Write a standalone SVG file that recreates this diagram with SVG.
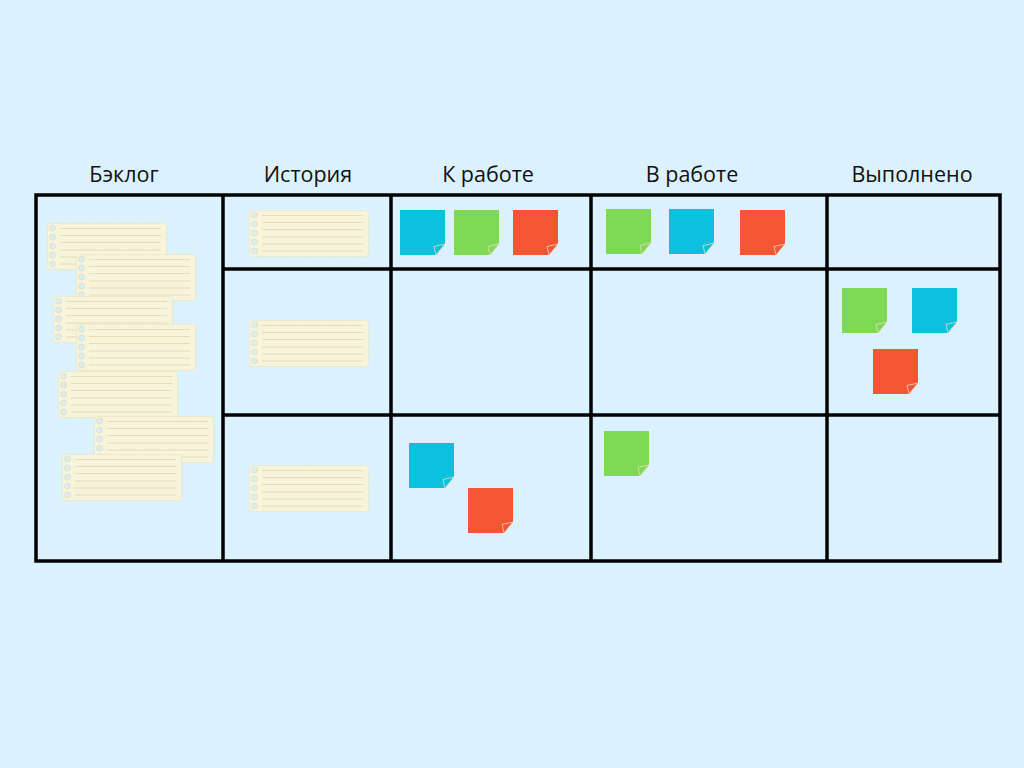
<svg xmlns="http://www.w3.org/2000/svg" xmlns:xlink="http://www.w3.org/1999/xlink" width="1024" height="768" viewBox="0 0 1024 768">
<style>
.hdr{font-family:"Open Sans","Noto Sans","DejaVu Sans",sans-serif;font-size:21.5px;fill:#111;text-anchor:middle}
.grid{stroke:#000;stroke-width:3.5;fill:none}
.blue{fill:#0bc1de}
.green{fill:#7ed957}
.red{fill:#f45535}
</style>
<defs>
<g id="card">
<rect x="0.5" y="0.5" width="119" height="46" rx="3" fill="#f8f4da" stroke="#ebe4c2" stroke-width="1" stroke-dasharray="2 1"/>
<g stroke="#e4dcba" stroke-width="1">
<line x1="13" y1="5.5" x2="114" y2="5.5"/>
<line x1="13" y1="12.5" x2="114" y2="12.5"/>
<line x1="13" y1="19.5" x2="114" y2="19.5"/>
<line x1="13" y1="27" x2="114" y2="27"/>
<line x1="13" y1="34" x2="114" y2="34"/>
<line x1="13" y1="41" x2="114" y2="41"/>
</g>
<g fill="#d6eef6" stroke="#e6e0c4" stroke-width="1">
<circle cx="5.5" cy="5" r="3"/>
<circle cx="5.5" cy="14" r="3"/>
<circle cx="5.5" cy="23" r="3"/>
<circle cx="5.5" cy="32" r="3"/>
<circle cx="5.5" cy="41" r="3"/>
</g>
</g>
<g id="sticky">
<path d="M0,0 H45 V34 L36,45 H0 Z"/>
<path d="M45,34 L34,36.5 L36,45 Z" stroke="#eadcb8" stroke-width="0.8"/>
</g>
</defs>
<rect width="1024" height="768" fill="#dbf2fe"/>
<g id="headers">
<text class="hdr" x="124" y="182">Бэклог</text>
<text class="hdr" x="308" y="182">История</text>
<text class="hdr" x="488" y="182">К работе</text>
<text class="hdr" x="692" y="182">В работе</text>
<text class="hdr" x="912" y="182">Выполнено</text>
</g>
<g id="board" class="grid">
<rect x="36" y="195" width="964" height="366"/>
<line x1="223" y1="195" x2="223" y2="561"/>
<line x1="391" y1="195" x2="391" y2="561"/>
<line x1="591" y1="195" x2="591" y2="561"/>
<line x1="827" y1="195" x2="827" y2="561"/>
<line x1="223" y1="269" x2="1000" y2="269"/>
<line x1="223" y1="415" x2="1000" y2="415"/>
</g>
<g id="backlog-cards">
<use xlink:href="#card" href="#card" transform="translate(47,223)"/>
<use xlink:href="#card" href="#card" transform="translate(76,254)"/>
<use xlink:href="#card" href="#card" transform="translate(53,296)"/>
<use xlink:href="#card" href="#card" transform="translate(76,324)"/>
<use xlink:href="#card" href="#card" transform="translate(58,371)"/>
<use xlink:href="#card" href="#card" transform="translate(94,416)"/>
<use xlink:href="#card" href="#card" transform="translate(62,454)"/>
</g>
<g id="story-cards">
<use xlink:href="#card" href="#card" transform="translate(249,210)"/>
<use xlink:href="#card" href="#card" transform="translate(249,320)"/>
<use xlink:href="#card" href="#card" transform="translate(249,465)"/>
</g>
<g id="todo-notes">
<use xlink:href="#sticky" href="#sticky" class="blue" transform="translate(400,210)"/>
<use xlink:href="#sticky" href="#sticky" class="green" transform="translate(454,210)"/>
<use xlink:href="#sticky" href="#sticky" class="red" transform="translate(513,210)"/>
<use xlink:href="#sticky" href="#sticky" class="blue" transform="translate(409,443)"/>
<use xlink:href="#sticky" href="#sticky" class="red" transform="translate(468,488)"/>
</g>
<g id="inprogress-notes">
<use xlink:href="#sticky" href="#sticky" class="green" transform="translate(606,209)"/>
<use xlink:href="#sticky" href="#sticky" class="blue" transform="translate(669,209)"/>
<use xlink:href="#sticky" href="#sticky" class="red" transform="translate(740,210)"/>
<use xlink:href="#sticky" href="#sticky" class="green" transform="translate(604,431)"/>
</g>
<g id="done-notes">
<use xlink:href="#sticky" href="#sticky" class="green" transform="translate(842,288)"/>
<use xlink:href="#sticky" href="#sticky" class="blue" transform="translate(912,288)"/>
<use xlink:href="#sticky" href="#sticky" class="red" transform="translate(873,349)"/>
</g>
</svg>
